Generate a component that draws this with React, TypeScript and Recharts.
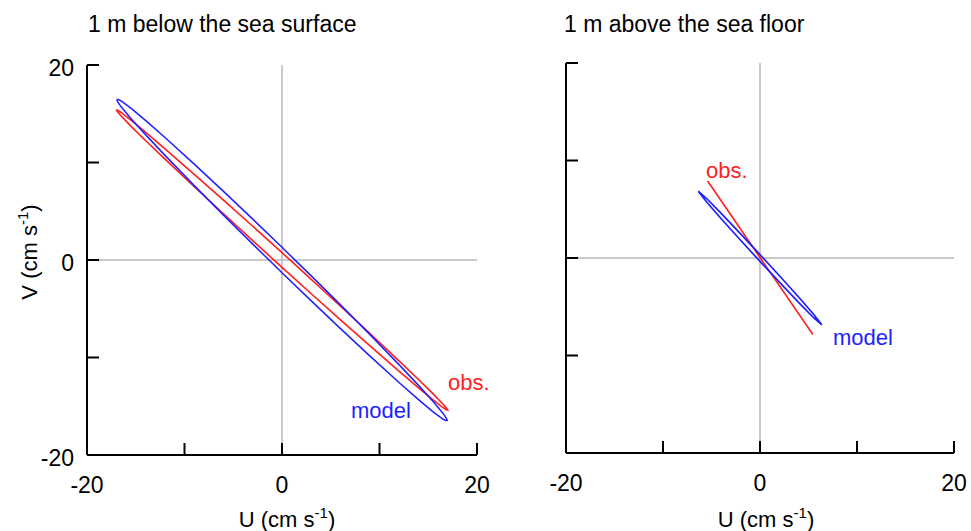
import React from 'react';
import { ComposedChart, Line, XAxis, YAxis, ReferenceLine } from 'recharts';

const axisTicks = [-20, -10, 0, 10, 20];
const labelledTicks = [-20, 0, 20];

// 1 m below the sea surface — model ellipse (blue)
const surfaceModel = [
  { u: -16.95, v: 16.45 }, { u: -16.8, v: 16.47 }, { u: -16.5, v: 16.31 }, { u: -15.5, v: 15.57 },
  { u: -14, v: 14.32 }, { u: -12, v: 12.57 }, { u: -9, v: 9.83 }, { u: -6, v: 7.04 },
  { u: -3, v: 4.19 }, { u: 0, v: 1.3 }, { u: 3, v: -1.63 }, { u: 6, v: -4.6 },
  { u: 9, v: -7.63 }, { u: 12, v: -10.73 }, { u: 14, v: -12.86 }, { u: 15.5, v: -14.51 },
  { u: 16.5, v: -15.71 }, { u: 16.8, v: -16.13 }, { u: 16.95, v: -16.45 }, { u: 16.8, v: -16.47 },
  { u: 16.5, v: -16.31 }, { u: 15.5, v: -15.57 }, { u: 14, v: -14.32 }, { u: 12, v: -12.57 },
  { u: 9, v: -9.83 }, { u: 6, v: -7.04 }, { u: 3, v: -4.19 }, { u: 0, v: -1.3 },
  { u: -3, v: 1.63 }, { u: -6, v: 4.6 }, { u: -9, v: 7.63 }, { u: -12, v: 10.73 },
  { u: -14, v: 12.86 }, { u: -15.5, v: 14.51 }, { u: -16.5, v: 15.71 }, { u: -16.8, v: 16.13 },
  { u: -16.95, v: 16.45 },
];

// 1 m below the sea surface — observed ellipse (red)
const surfaceObs = [
  { u: -17, v: 15.4 }, { u: -16.85, v: 15.37 }, { u: -16.5, v: 15.13 }, { u: -15.5, v: 14.35 },
  { u: -14, v: 13.11 }, { u: -12, v: 11.4 }, { u: -9, v: 8.79 }, { u: -6, v: 6.14 },
  { u: -3, v: 3.46 }, { u: 0, v: 0.75 }, { u: 3, v: -1.98 }, { u: 6, v: -4.74 },
  { u: 9, v: -7.51 }, { u: 12, v: -10.34 }, { u: 14, v: -12.26 }, { u: 15.5, v: -13.73 },
  { u: 16.5, v: -14.77 }, { u: 16.85, v: -15.17 }, { u: 17, v: -15.4 }, { u: 16.85, v: -15.37 },
  { u: 16.5, v: -15.13 }, { u: 15.5, v: -14.35 }, { u: 14, v: -13.11 }, { u: 12, v: -11.4 },
  { u: 9, v: -8.79 }, { u: 6, v: -6.14 }, { u: 3, v: -3.46 }, { u: 0, v: -0.75 },
  { u: -3, v: 1.98 }, { u: -6, v: 4.74 }, { u: -9, v: 7.51 }, { u: -12, v: 10.34 },
  { u: -14, v: 12.26 }, { u: -15.5, v: 13.73 }, { u: -16.5, v: 14.77 }, { u: -16.85, v: 15.17 },
  { u: -17, v: 15.4 },
];

// 1 m above the sea floor — model ellipse (blue)
const floorModel = [
  { u: -6.37, v: 6.85 }, { u: -5.5, v: 6.1 }, { u: -4, v: 4.57 }, { u: -2, v: 2.48 },
  { u: 0, v: 0.35 }, { u: 2, v: -1.82 }, { u: 4, v: -4.03 }, { u: 5.5, v: -5.75 },
  { u: 6.37, v: -6.85 }, { u: 5.5, v: -6.1 }, { u: 4, v: -4.57 }, { u: 2, v: -2.48 },
  { u: 0, v: -0.35 }, { u: -2, v: 1.82 }, { u: -4, v: 4.03 }, { u: -5.5, v: 5.75 },
  { u: -6.37, v: 6.85 },
];

// 1 m above the sea floor — observed (red, nearly rectilinear)
const floorObs = [
  { u: -5.4, v: 7.9 }, { u: 0, v: 0.05 }, { u: 5.45, v: -7.85 },
];

const FONT = '"Liberation Sans", Arial, Helvetica, sans-serif';
const BLUE = '#1f1fff';
const RED = '#ff1f1f';
const GRID = '#b8b8b8';

const makeXTick = () => (props: any) => {
  const { x, y, payload } = props;
  const v = payload.value;
  return (
    <g>
      <line x1={x} y1={y} x2={x} y2={y - 12} stroke="#000" strokeWidth={2} />
      {labelledTicks.includes(v) && (
        <text x={x} y={y + 38} textAnchor="middle" fontSize={23} fontFamily={FONT} fill="#000">
          {v}
        </text>
      )}
    </g>
  );
};

const makeYTick = (show: boolean) => (props: any) => {
  const { x, y, payload } = props;
  const v = payload.value;
  return (
    <g>
      <line x1={x} y1={y} x2={x + 12} y2={y} stroke="#000" strokeWidth={2} />
      {show && labelledTicks.includes(v) && (
        <text x={x - 13} y={y + 11} textAnchor="end" fontSize={23} fontFamily={FONT} fill="#000">
          {v}
        </text>
      )}
    </g>
  );
};

type PanelProps = {
  model: { u: number; v: number }[];
  obs: { u: number; v: number }[];
  showY: boolean;
  width: number;
  margin: { top: number; right: number; bottom: number; left: number };
  modelWidth: number;
};

const Panel = ({ model, obs, showY, width, margin, modelWidth }: PanelProps) => (
  <ComposedChart width={width} height={531} margin={margin}>
    <XAxis
      type="number"
      dataKey="u"
      domain={[-20, 20]}
      ticks={axisTicks}
      interval={0}
      allowDataOverflow
      height={50}
      tickSize={0}
      tickMargin={0}
      axisLine={{ stroke: '#000', strokeWidth: 2 }}
      tickLine={false}
      tick={makeXTick()}
    />
    <YAxis
      type="number"
      dataKey="v"
      domain={[-20, 20]}
      ticks={axisTicks}
      interval={0}
      allowDataOverflow
      width={60}
      tickSize={0}
      tickMargin={0}
      axisLine={{ stroke: '#000', strokeWidth: 2 }}
      tickLine={false}
      tick={makeYTick(showY)}
    />
    <ReferenceLine x={0} stroke={GRID} strokeWidth={1.5} />
    <ReferenceLine y={0} stroke={GRID} strokeWidth={1.5} />
    <Line
      data={obs}
      dataKey="v"
      type="linear"
      stroke={RED}
      strokeWidth={1.6}
      dot={false}
      activeDot={false}
      isAnimationActive={false}
    />
    <Line
      data={model}
      dataKey="v"
      type="linear"
      stroke={BLUE}
      strokeWidth={modelWidth}
      dot={false}
      activeDot={false}
      isAnimationActive={false}
    />
  </ComposedChart>
);

const AxisTitle = ({ x, y, name, rotate }: { x: number; y: number; name: string; rotate?: boolean }) => (
  <text
    x={x}
    y={y}
    textAnchor="middle"
    fontSize={22}
    fontFamily={FONT}
    fill="#000"
    transform={rotate ? `rotate(-90 ${x} ${y})` : undefined}
  >
    {name} (cm s
    <tspan fontSize={15} dy={-9}>-1</tspan>
    <tspan dy={9}>)</tspan>
  </text>
);

export default function App() {
  return (
    <div style={{ position: 'absolute', left: 0, top: 0, width: 971, height: 531, background: '#fff', overflow: 'hidden' }}>
      <div style={{ position: 'absolute', left: 0, top: 0 }}>
        <Panel
          model={surfaceModel}
          obs={surfaceObs}
          showY
          width={490}
          margin={{ top: 65, right: 13, bottom: 26, left: 27 }}
          modelWidth={1.5}
        />
      </div>
      <div style={{ position: 'absolute', left: 490, top: 0 }}>
        <Panel
          model={floorModel}
          obs={floorObs}
          showY={false}
          width={481}
          margin={{ top: 63, right: 17, bottom: 28, left: 16 }}
          modelWidth={1.7}
        />
      </div>
      <svg
        width={971}
        height={531}
        style={{ position: 'absolute', left: 0, top: 0, pointerEvents: 'none' }}
      >
        <text x={88} y={32} fontSize={23} fontFamily={FONT} fill="#000">1 m below the sea surface</text>
        <text x={564} y={32} fontSize={23} fontFamily={FONT} fill="#000">1 m above the sea floor</text>
        <AxisTitle x={37} y={252} name="V" rotate />
        <AxisTitle x={287} y={527} name="U" />
        <AxisTitle x={766} y={527} name="U" />
        <text x={448} y={390} fontSize={22} fontFamily={FONT} fill={RED}>obs.</text>
        <text x={351} y={418} fontSize={22} fontFamily={FONT} fill={BLUE}>model</text>
        <text x={706} y={178} fontSize={22} fontFamily={FONT} fill={RED}>obs.</text>
        <text x={833} y={345} fontSize={22} fontFamily={FONT} fill={BLUE}>model</text>
      </svg>
    </div>
  );
}
